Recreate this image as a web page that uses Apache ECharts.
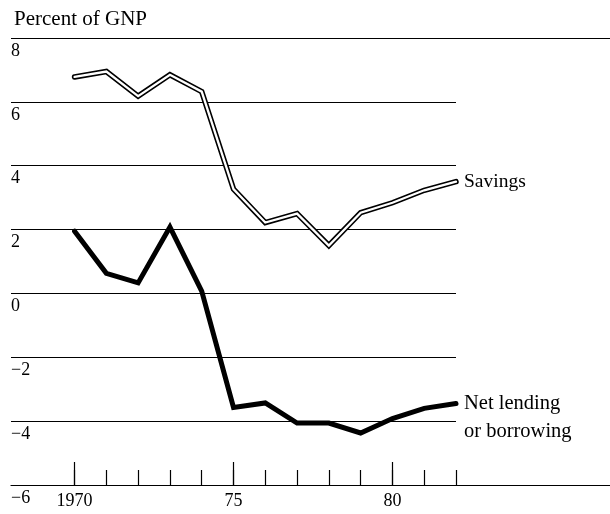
<!DOCTYPE html>
<html>
<head>
<meta charset="utf-8">
<script src="https://cdn.jsdelivr.net/npm/echarts@6/dist/echarts.min.js"></script>
<style>
  html, body { margin: 0; padding: 0; background: #fff; }
  #chart { width: 610px; height: 514px; }
</style>
</head>
<body>
<div id="chart"></div>
<script>
var years = [1970, 1971, 1972, 1973, 1974, 1975, 1976, 1977, 1978, 1979, 1980, 1981, 1982];
var savings = [6.78, 6.95, 6.18, 6.85, 6.32, 3.27, 2.22, 2.5, 1.5, 2.53, 2.84, 3.23, 3.5];
var netLending = [1.95, 0.63, 0.33, 2.08, 0.07, -3.57, -3.43, -4.06, -4.06, -4.37, -3.92, -3.6, -3.45];
var majorYears = [1970, 1975, 1980];
var xTickLabels = ['1970', '75', '80'];
var yMin = -6, yMax = 8, yStep = 2;
var yTickLabels = ['\u22126', '\u22124', '\u22122', '0', '2', '4', '6', '8'];

var FONT = '"Liberation Serif", "Times New Roman", serif';

function pairs(xs, ys) { return xs.map(function (x, i) { return [x, ys[i]]; }); }

var chart = echarts.init(document.getElementById('chart'), null, { renderer: 'canvas' });
chart.setOption({
  animation: false,
  backgroundColor: '#fff',
  title: {
    text: 'Percent of GNP', left: 9, top: 4,
    textStyle: { fontFamily: FONT, fontSize: 21, fontWeight: 'normal', color: '#000' }
  },
  grid: [
    { left: 11, right: 154, top: 38, bottom: 29 },
    { left: 455, right: 0, top: 38, bottom: 29 }
  ],
  xAxis: [
    {
      gridIndex: 0, type: 'value', min: 1968, max: 1982, position: 'bottom',
      axisLine: { show: true, onZero: false, lineStyle: { color: '#000', width: 1.2 } },
      axisTick: { show: true, inside: true, length: 15, customValues: years, lineStyle: { color: '#000', width: 1.2 } },
      axisLabel: { show: false },
      splitLine: { show: false }
    },
    {
      gridIndex: 0, type: 'value', min: 1968, max: 1982, position: 'bottom',
      axisLine: { show: false, onZero: false },
      axisTick: { show: true, inside: true, length: 23, customValues: majorYears, lineStyle: { color: '#000', width: 1.2 } },
      axisLabel: {
        show: true, customValues: majorYears, margin: 7,
        fontFamily: FONT, fontSize: 18, color: '#000',
        formatter: function (v) { return xTickLabels[majorYears.indexOf(v)]; }
      },
      splitLine: { show: false }
    },
    { gridIndex: 1, type: 'value', min: 0, max: 1, show: false }
  ],
  yAxis: [
    {
      gridIndex: 0, type: 'value', min: yMin, max: yMax, interval: yStep,
      axisLine: { show: false }, axisTick: { show: false },
      splitLine: { show: true, lineStyle: { color: '#000', width: 1.2 } },
      axisLabel: {
        show: true, inside: true, margin: 0, align: 'left', verticalAlign: 'top',
        padding: [4, 0, 0, 0],
        fontFamily: FONT, fontSize: 18, color: '#000',
        formatter: function (v) { return yTickLabels[Math.round((v - yMin) / yStep)]; }
      }
    },
    {
      gridIndex: 1, type: 'value', min: yMin, max: yMax, interval: yMax - yMin,
      axisLine: { show: false }, axisTick: { show: false }, axisLabel: { show: false },
      splitLine: { show: true, lineStyle: { color: '#000', width: 1.2 } }
    }
  ],
  series: [
    {
      name: 'Savings outline', type: 'line', xAxisIndex: 0, yAxisIndex: 0,
      data: pairs(years, savings), symbol: 'none', silent: true,
      lineStyle: { color: '#000', width: 5.5, cap: 'round', join: 'miter' }
    },
    {
      name: 'Savings', type: 'line', xAxisIndex: 0, yAxisIndex: 0,
      data: pairs(years, savings), symbol: 'none', silent: true,
      lineStyle: { color: '#fff', width: 2.3, cap: 'round', join: 'miter' },
      endLabel: {
        show: true, formatter: 'Savings', distance: 8,
        fontFamily: FONT, fontSize: 19.5, color: '#000'
      }
    },
    {
      name: 'Net lending or borrowing', type: 'line', xAxisIndex: 0, yAxisIndex: 0,
      data: pairs(years, netLending), symbol: 'none', silent: true,
      lineStyle: { color: '#000', width: 5, cap: 'round', join: 'miter' },
      endLabel: {
        show: true, formatter: 'Net lending\nor borrowing', distance: 8,
        fontFamily: FONT, fontSize: 20.5, color: '#000', lineHeight: 28,
        verticalAlign: 'top', offset: [0, -14]
      }
    }
  ]
});
</script>
</body>
</html>
